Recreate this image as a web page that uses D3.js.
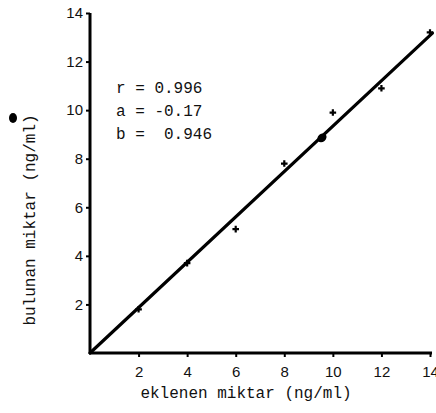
<!DOCTYPE html>
<html>
<head>
<meta charset="utf-8">
<script src="https://cdn.jsdelivr.net/npm/d3@7"></script>
<style>
  body { margin: 0; background: #fff; }
  .tick-label { font-family: "Liberation Sans", Arial, sans-serif; font-size: 15px; fill: #111; }
  .axis-label, .stat { font-family: "Liberation Mono", "DejaVu Sans Mono", monospace; font-size: 16px; fill: #111; }
</style>
</head>
<body>
<div id="calChart"></div>
<script>
// chart data
const added = [2, 4, 6, 8, 10, 12, 14];
const found = [1.8, 3.7, 5.1, 7.8, 9.9, 10.9, 13.2];
const xTicks = [2, 4, 6, 8, 10, 12, 14];
const yTicks = [2, 4, 6, 8, 10, 12, 14];
const statLines = ['r = 0.996', 'a = -0.17', 'b =  0.946'];
const fitA = -0.17;
const fitB = 0.946;
const meanPoint = [9.55, 8.86];

// chart static params
const width_cal = 436;
const height_cal = 413;
const margin_cal = {top: 13, right: 6, bottom: 60, left: 90};
const xLabel = 'eklenen miktar (ng/ml)';
const yLabel = 'bulunan miktar (ng/ml)';

const xScale = d3.scaleLinear()
  .domain([0, 14])
  .range([margin_cal.left, width_cal - margin_cal.right]);

const yScale = d3.scaleLinear()
  .domain([0, 14])
  .range([height_cal - margin_cal.bottom, margin_cal.top]);

const svg = d3.select('#calChart')
  .append('svg')
    .attr('width', width_cal)
    .attr('height', height_cal);

// axes, restyled to look like the print
const xAxis = d3.axisBottom(xScale).tickValues(xTicks).tickSize(4).tickSizeOuter(0).tickFormat(d3.format('d'));
const yAxis = d3.axisLeft(yScale).tickValues(yTicks).tickSize(4).tickSizeOuter(0).tickFormat(d3.format('d'));

const gx = svg.append('g')
  .attr('transform', `translate(0,${yScale(0)})`)
  .call(xAxis);
gx.select('.domain').attr('stroke', '#000').attr('stroke-width', 3)
  .attr('d', `M${xScale(0) - 1},0H${xScale(14) + 2}`);
gx.selectAll('.tick line').attr('stroke', '#000').attr('stroke-width', 2);
gx.selectAll('.tick text').attr('class', 'tick-label').attr('dy', '1.05em').attr('y', 8);

const gy = svg.append('g')
  .attr('transform', `translate(${xScale(0)},0)`)
  .call(yAxis);
gy.select('.domain').attr('stroke', '#000').attr('stroke-width', 3)
  .attr('d', `M0,${yScale(0) + 1}V${yScale(14)}`);
gy.selectAll('.tick line').attr('stroke', '#000').attr('stroke-width', 2);
gy.selectAll('.tick text').attr('class', 'tick-label').attr('x', -7);

// fitted line
const x1 = 14.1;
svg.append('line')
  .attr('x1', xScale(0)).attr('y1', yScale(0))
  .attr('x2', xScale(x1)).attr('y2', yScale(fitA + fitB * x1))
  .attr('stroke', '#000').attr('stroke-width', 3.2)
  .attr('stroke-linecap', 'round');

// measured points as small crosses
const cross = d3.symbol().type(d3.symbolCross).size(24);
svg.selectAll('.pt')
  .data(added.map((d, i) => [d, found[i]]))
  .join('path')
    .attr('class', 'pt')
    .attr('d', cross)
    .attr('transform', d => `translate(${xScale(d[0])},${yScale(d[1])})`)
    .attr('fill', '#000');

// mean point blob on the line
svg.append('ellipse')
  .attr('cx', xScale(meanPoint[0])).attr('cy', yScale(meanPoint[1]))
  .attr('rx', 5).attr('ry', 4)
  .attr('transform', `rotate(-40,${xScale(meanPoint[0])},${yScale(meanPoint[1])})`)
  .attr('fill', '#000');

// stats text
svg.selectAll('.stat')
  .data(statLines)
  .join('text')
    .attr('class', 'stat')
    .attr('x', 116)
    .attr('y', (d, i) => 93 + i * 23)
    .attr('xml:space', 'preserve')
    .style('white-space', 'pre')
    .text(d => d);

// add label bottom
svg.append('text')
  .attr('class', 'axis-label')
  .attr('text-anchor', 'middle')
  .attr('x', 246)
  .attr('y', 398)
  .text(xLabel);

// add label left
svg.append('text')
  .attr('class', 'axis-label')
  .attr('text-anchor', 'middle')
  .attr('transform', `translate(35,220) rotate(-90)`)
  .text(yLabel);

// ink blot from the print above the left label
svg.append('ellipse')
  .attr('cx', 13).attr('cy', 118).attr('rx', 4).attr('ry', 5)
  .attr('fill', '#000');
</script>
</body>
</html>
